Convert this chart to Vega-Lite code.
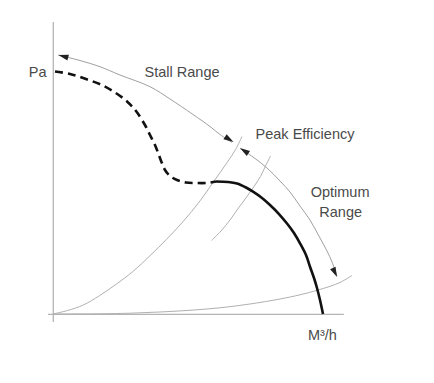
{
  "$schema": "https://vega.github.io/schema/vega-lite/v6.json",
  "width": 434,
  "height": 383,
  "padding": 0,
  "autosize": {"type": "fit", "contains": "padding"},
  "background": "white",
  "config": {"view": {"stroke": null}},
  "datasets": {
    "axes": [
      {"name": "pressure axis", "x": 0.1, "y": 100.7, "x2": 0.1, "y2": -2.8},
      {"name": "flow axis", "x": -1.7, "y": -0.1, "x2": 100.3, "y2": -0.1}
    ],
    "guides": [
      {"curve": "A", "x": 0, "y": 0}, {"curve": "A", "x": 5, "y": 1.2}, {"curve": "A", "x": 10.45, "y": 3.1},
      {"curve": "A", "x": 16, "y": 6.3}, {"curve": "A", "x": 21.97, "y": 10.4}, {"curve": "A", "x": 27.5, "y": 14.6},
      {"curve": "A", "x": 33.45, "y": 20.1}, {"curve": "A", "x": 39, "y": 25.6}, {"curve": "A", "x": 44.8, "y": 31.8},
      {"curve": "A", "x": 50.69, "y": 39.0}, {"curve": "A", "x": 55.5, "y": 45.8}, {"curve": "A", "x": 60, "y": 52.2},
      {"curve": "A", "x": 63, "y": 56.8}, {"curve": "A", "x": 65.17, "y": 61.2},
      {"curve": "B", "x": 54.66, "y": 25.34}, {"curve": "B", "x": 57.93, "y": 28.62}, {"curve": "B", "x": 61.03, "y": 32.41},
      {"curve": "B", "x": 63.45, "y": 35.86}, {"curve": "B", "x": 66.9, "y": 40.52}, {"curve": "B", "x": 69.66, "y": 44.48},
      {"curve": "B", "x": 71.55, "y": 47.41}, {"curve": "B", "x": 73.28, "y": 51.03}, {"curve": "B", "x": 75.0, "y": 54.48},
      {"curve": "C", "x": 0, "y": 0}, {"curve": "C", "x": 16.21, "y": 0.07}, {"curve": "C", "x": 26.55, "y": 0.28},
      {"curve": "C", "x": 36.9, "y": 0.69}, {"curve": "C", "x": 47.24, "y": 1.28}, {"curve": "C", "x": 57.59, "y": 2.14},
      {"curve": "C", "x": 67.93, "y": 3.45}, {"curve": "C", "x": 78.28, "y": 5.17}, {"curve": "C", "x": 85.17, "y": 6.62},
      {"curve": "C", "x": 91.03, "y": 8.17}, {"curve": "C", "x": 95.52, "y": 9.55}, {"curve": "C", "x": 99.31, "y": 11.03},
      {"curve": "C", "x": 103.1, "y": 13.28}
    ],
    "ranges": [
      {"range": "stall", "x": 1.72, "y": 89.31}, {"range": "stall", "x": 9.31, "y": 87.41}, {"range": "stall", "x": 16.21, "y": 85.28},
      {"range": "stall", "x": 23.1, "y": 82.41}, {"range": "stall", "x": 33.45, "y": 78.38}, {"range": "stall", "x": 40.34, "y": 74.14},
      {"range": "stall", "x": 48.28, "y": 68.79}, {"range": "stall", "x": 54.14, "y": 64.66}, {"range": "stall", "x": 57.59, "y": 61.9},
      {"range": "stall", "x": 61.72, "y": 59.14},
      {"range": "optimum", "x": 64.48, "y": 57.07}, {"range": "optimum", "x": 68.97, "y": 54.14}, {"range": "optimum", "x": 73.79, "y": 50.34},
      {"range": "optimum", "x": 78.28, "y": 45.86}, {"range": "optimum", "x": 81.72, "y": 42.07}, {"range": "optimum", "x": 85.17, "y": 37.24},
      {"range": "optimum", "x": 88.62, "y": 32.41}, {"range": "optimum", "x": 92.07, "y": 26.21}, {"range": "optimum", "x": 94.48, "y": 21.72},
      {"range": "optimum", "x": 96.21, "y": 17.93}, {"range": "optimum", "x": 97.93, "y": 13.1}
    ],
    "heads": [
      {"x": 3.55, "y": 88.86, "dir": 285},
      {"x": 60.79, "y": 60.21, "dir": 122},
      {"x": 65.93, "y": 56.28, "dir": 303},
      {"x": 97.21, "y": 14.31, "dir": 155}
    ],
    "stall": [
      {"x": 0.69, "y": 83.62}, {"x": 5.86, "y": 82.76}, {"x": 11.62, "y": 80.93}, {"x": 16.79, "y": 79.0},
      {"x": 21.38, "y": 76.4}, {"x": 25.52, "y": 73.3}, {"x": 28.62, "y": 70.0}, {"x": 31.72, "y": 65.17},
      {"x": 33.45, "y": 61.72}, {"x": 35.17, "y": 58.28}, {"x": 36.38, "y": 55.17}, {"x": 37.41, "y": 52.41},
      {"x": 38.62, "y": 49.66}, {"x": 40.34, "y": 47.59}, {"x": 42.76, "y": 46.21}, {"x": 45.86, "y": 45.34},
      {"x": 49.31, "y": 45.17}, {"x": 52.76, "y": 45.17}, {"x": 56.21, "y": 45.69}
    ],
    "operating": [
      {"x": 56.21, "y": 45.69}, {"x": 60.34, "y": 45.52}, {"x": 63.45, "y": 45.0}, {"x": 66.55, "y": 43.62},
      {"x": 68.97, "y": 42.17}, {"x": 72.07, "y": 40.0}, {"x": 74.83, "y": 37.59}, {"x": 77.93, "y": 34.48},
      {"x": 80.69, "y": 31.21}, {"x": 83.1, "y": 27.93}, {"x": 85.17, "y": 24.38}, {"x": 87.24, "y": 20.34},
      {"x": 88.62, "y": 16.31}, {"x": 90.0, "y": 12.41}, {"x": 91.03, "y": 8.97}, {"x": 92.07, "y": 4.83},
      {"x": 93.1, "y": 0}
    ],
    "labels": [
      {"label": "Pa", "x": -5.3, "y": 81.8},
      {"label": "Stall Range", "x": 44.5, "y": 81.8},
      {"label": "Peak Efficiency", "x": 86.9, "y": 60.2},
      {"label": "Optimum", "x": 99.0, "y": 40.2},
      {"label": "Range", "x": 99.2, "y": 33.5},
      {"label": "M³/h", "x": 92.9, "y": -9.0}
    ]
  },
  "encoding": {
    "x": {"field": "x", "type": "quantitative", "scale": {"domain": [-18.276, 131.379], "nice": false, "zero": false}, "axis": null},
    "y": {"field": "y", "type": "quantitative", "scale": {"domain": [-23.793, 108.276], "nice": false, "zero": false}, "axis": null}
  },
  "layer": [
    {
      "data": {"name": "axes"},
      "mark": {"type": "rule", "color": "#b4b4b4", "strokeWidth": 1.3},
      "encoding": {"x2": {"field": "x2"}, "y2": {"field": "y2"}}
    },
    {
      "data": {"name": "guides"},
      "mark": {"type": "line", "color": "#b0b0b0", "strokeWidth": 1, "interpolate": "catmull-rom"},
      "encoding": {"detail": {"field": "curve"}}
    },
    {
      "data": {"name": "ranges"},
      "mark": {"type": "line", "color": "#a0a0a0", "strokeWidth": 1, "interpolate": "catmull-rom"},
      "encoding": {"detail": {"field": "range"}}
    },
    {
      "data": {"name": "heads"},
      "mark": {"type": "point", "shape": "M0,-1L-0.6,1L0.6,1Z", "filled": true, "color": "#222", "opacity": 1, "size": 100},
      "encoding": {"angle": {"field": "dir", "type": "quantitative", "scale": null}}
    },
    {
      "data": {"name": "stall"},
      "mark": {"type": "line", "color": "#111", "strokeWidth": 2.6, "strokeDash": [8, 5], "interpolate": "catmull-rom"},
      "encoding": {}
    },
    {
      "data": {"name": "operating"},
      "mark": {"type": "line", "color": "#111", "strokeWidth": 2.6, "interpolate": "catmull-rom"},
      "encoding": {}
    },
    {
      "data": {"name": "labels"},
      "mark": {"type": "text", "font": "Liberation Sans", "fontSize": 14.5, "color": "#4a4a4a", "align": "center", "baseline": "alphabetic"},
      "encoding": {"text": {"field": "label"}}
    }
  ]
}
